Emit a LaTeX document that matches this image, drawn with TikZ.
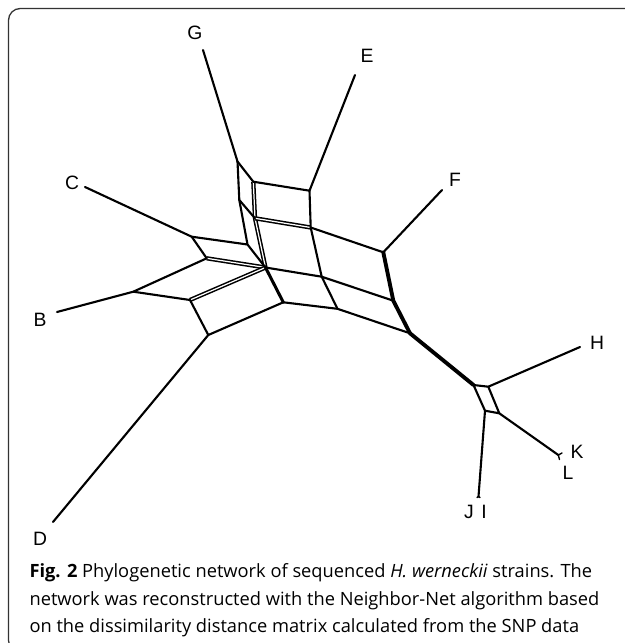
\documentclass[tikz,border=0pt]{standalone}
\usepackage{fontspec}
\setmainfont{Liberation Sans}
\newfontfamily\capfont{Open Sans}
\begin{document}
\begin{tikzpicture}[x=0.03cm,y=-0.03cm,line join=round,line cap=round,
  edge/.style={line width=1.8pt},
  twin/.style={double,line width=1.3pt,double distance=1.05pt,line cap=butt},
  heavy/.style={line width=3.3pt},
  mid/.style={line width=2.6pt},
  taxon/.style={inner sep=0pt,font=\fontsize{16.5}{18}\selectfont},
  capline/.style={anchor=base west,inner sep=0pt,font=\capfont\fontsize{15.6}{17}\selectfont}]
\useasboundingbox (0,0) rectangle (625,643);
\clip (0,0) rectangle (625,643);

% panel frame
\draw[black!80,line width=1.1pt,rounded corners=10] (8.5,8.5) rectangle (660,652);

% split-graph vertices
\coordinate (Gn) at (237.5,161.5);
\coordinate (G1) at (253.3,181.7);
\coordinate (G2) at (239.3,200);
\coordinate (G3) at (255,218.3);
\coordinate (En) at (309.5,190.7);
\coordinate (E2) at (310.7,227.5);
\coordinate (Fn) at (383.3,252.3);
\coordinate (P)  at (247.5,244.5);
\coordinate (Z)  at (265.5,267.5);
\coordinate (Q)  at (321.7,276.7);
\coordinate (F2) at (393.3,300.7);
\coordinate (R)  at (283.3,302.3);
\coordinate (S)  at (337.5,308.8);
\coordinate (T)  at (410,333.3);
\coordinate (Cn) at (191.7,236.7);
\coordinate (C2) at (206.7,258.3);
\coordinate (Bn) at (133.3,291.7);
\coordinate (B2) at (190,300);
\coordinate (Dn) at (208.3,335);
\coordinate (X1) at (473.5,385);
\coordinate (X2) at (488.3,386.7);
\coordinate (X3) at (485,410.7);
\coordinate (X4) at (499.3,413.3);

% leaf ends
\coordinate (Gt)  at (203,50);
\coordinate (Et)  at (355,75);
\coordinate (Ft)  at (442,190);
\coordinate (Ct)  at (85,187);
\coordinate (Bt)  at (57,312);
\coordinate (Dt)  at (53,522);
\coordinate (Ht)  at (580,347);
\coordinate (JIt) at (478.5,496.5);
\coordinate (KLt) at (558.3,455);
\coordinate (Kt)  at (562,453);
\coordinate (Lt)  at (559.5,459.5);
\coordinate (Jt)  at (477,497.5);
\coordinate (It)  at (480,497.5);

% near-parallel edge pairs
\draw[twin] (G1) -- (G3) -- (Z);
\draw[twin] (G3) -- (E2);
\draw[twin] (C2) -- (Z);
\draw[twin] (B2) -- (Z);

% single edges
\draw[edge] (Gt) -- (Gn) -- (G1) -- (En) -- (Et);
\draw[edge] (Gn) -- (G2) -- (G3);
\draw[edge] (G2) -- (P) -- (Z);
\draw[edge] (En) -- (E2) -- (Fn) -- (Ft);
\draw[edge] (E2) -- (Q) -- (S) -- (T);
\draw[edge] (Z) -- (Q) -- (F2);
\draw[edge] (R) -- (S);
\draw[edge] (Ct) -- (Cn) -- (P);
\draw[edge] (Cn) -- (C2) -- (Bn) -- (Bt);
\draw[edge] (Bn) -- (B2) -- (Dn) -- (Dt);
\draw[edge] (Dn) -- (R);
\draw[mid] (Z) -- (R);
\draw[heavy] (Fn) -- (F2) -- (T) -- (X1);
\draw[edge] (X1) -- (X2) -- (X4) -- (X3) -- cycle;
\draw[edge] (X2) -- (Ht);
\draw[edge] (X3) -- (JIt);
\draw[edge] (X4) -- (KLt);
\draw[line width=1.2pt] (KLt) -- (Kt) (KLt) -- (Lt);
\draw[line width=1.2pt] (JIt) -- (Jt) (JIt) -- (It);

% taxon labels
\node[taxon] (lG) at (195,33)  {G};
\node[taxon] (lE) at (367,56)  {E};
\node[taxon] (lF) at (455,180) {F};
\node[taxon] (lC) at (72,183)  {C};
\node[taxon] (lB) at (40,320)  {B};
\node[taxon] (lD) at (40,539)  {D};
\node[taxon] (lH) at (597,343) {H};
\node[taxon] (lK) at (577,452) {K};
\node[taxon] (lL) at (568,473) {L};
\node[taxon] (lJ) at (469,512) {J};
\node[taxon] (lI) at (484,512) {I};

% caption
\node[capline] (cap1) at (29.3,577) {\textbf{Fig. 2} Phylogenetic network of sequenced \textit{H. werneckii} strains. The};
\node[capline] (cap2) at (29.3,605) {network was reconstructed with the Neighbor-Net algorithm based};
\node[capline] (cap3) at (29.3,632) {on the dissimilarity distance matrix calculated from the SNP data};
\end{tikzpicture}
\end{document}
